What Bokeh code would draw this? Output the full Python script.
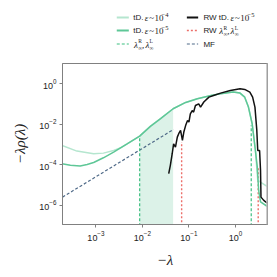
import numpy as np
from bokeh.plotting import figure
from bokeh.layouts import column
from bokeh.models import Range1d, FixedTicker, Span
from bokeh.core.properties import value
from bokeh.embed import file_html
from bokeh.resources import INLINE

# ---- data (log10 values) ----
td4_logx = [-3.73, -3.41, -3.05, -2.84, -2.62, -2.48, -2.33, -2.06, -1.83, -1.61, -1.34, -1.07, -0.82, -0.5,
            -0.32, -0.05, 0.10, 0.20, 0.28, 0.36, 0.43, 0.48, 0.68]
td4_logy = [-3.04, -3.32, -3.45, -3.42, -3.29, -3.17, -2.96, -2.58, -2.10, -1.72, -1.23, -0.92, -0.74, -0.57,
            -0.49, -0.41, -0.46, -0.66, -1.15, -1.97, -3.29, -4.76, -5.06]

td5_logx = [-3.73, -3.55, -3.34, -3.19, -3.05, -2.84, -2.62, -2.48, -2.33, -2.06, -1.83, -1.61, -1.34, -1.07,
            -0.82, -0.5, -0.32, -0.05, 0.10, 0.20, 0.28, 0.36, 0.43, 0.47, 0.50, 0.54, 0.68]
td5_logy = [-3.94, -4.02, -4.06, -3.98, -3.88, -3.65, -3.37, -3.17, -2.96, -2.58, -2.10, -1.72, -1.23, -0.92,
            -0.74, -0.57, -0.49, -0.41, -0.46, -0.66, -1.15, -1.97, -3.29, -4.1, -5.26, -5.83, -6.04]

rw_logx = [-1.435, -1.40, -1.36, -1.33, -1.29, -1.25, -1.22, -1.18, -1.14, -1.11, -1.07, -1.03, -1.00, -0.97,
           -0.93, -0.90, -0.86, -0.79, -0.75, -0.68, -0.57, -0.47, -0.32, -0.11, 0.10, 0.20, 0.31, 0.37,
           0.42, 0.46, 0.48, 0.52, 0.54, 0.55, 0.61, 0.68]
rw_logy = [-4.43, -4.02, -3.45, -2.96, -3.12, -2.63, -2.46, -2.30, -2.79, -2.38, -2.05, -1.81, -1.89, -1.48,
           -1.32, -1.40, -1.07, -0.99, -1.15, -0.90, -0.66, -0.58, -0.46, -0.33, -0.25, -0.28, -0.41, -0.66,
           -1.15, -2.30, -3.29, -3.29, -4.27, -5.59, -5.75, -5.88]

mf_logx = [-3.72, -1.33]
mf_logy = [-5.59, -2.25]

edge_td_logx = [-2.06, 0.34]
edge_td_logy = [-2.58, -2.05]

edge_rw_logx = [-1.157, 0.49]
edge_rw_logy = [-2.87, -4.1]

shade_logx = [-2.06, -1.83, -1.61, -1.34]
shade_logy = [-2.58, -2.10, -1.72, -1.23]

x_ticks = [1e-3, 1e-2, 1e-1, 1e0]
y_ticks = [1e-6, 1e-4, 1e-2, 1e0]

def e(v):
    return (10.0 ** np.array(v)).tolist()

C_LIGHT = "#b5e6cf"
C_MED = "#5ec797"
C_SHADE = "#dcf2e8"
C_GDASH = "#3dbf80"
C_RED = "#ec6f6a"
C_MF = "#4f6a88"
C_BLACK = "#111111"
C_AX = "#808080"
C_TXT = "#222222"

SANS = "Liberation Sans"
SERIF = "Liberation Serif"

# ---------------- main plot ----------------
p = figure(width=272, height=210, x_axis_type="log", y_axis_type="log",
           x_range=Range1d(10 ** -3.72, 10 ** 0.69), y_range=Range1d(10 ** -6.94, 10 ** 1.0),
           output_backend="svg", toolbar_location=None,
           min_border_left=62, min_border_right=5, min_border_top=1, min_border_bottom=48)
p.grid.visible = False
p.background_fill_color = "white"
p.border_fill_color = "white"
p.outline_line_color = C_AX
p.outline_line_width = 1

bottom = 1e-9
p.varea(x=e(shade_logx), y1=[bottom] * len(shade_logx), y2=e(shade_logy), fill_color=C_SHADE)

p.line(e(mf_logx), e(mf_logy), line_color=C_MF, line_width=1.2, line_dash="3 2")
p.segment(x0=e(edge_td_logx), y0=[bottom] * 2, x1=e(edge_td_logx), y1=e(edge_td_logy),
          line_color=C_GDASH, line_width=1.2, line_dash="3 2")
p.segment(x0=e(edge_rw_logx), y0=[bottom] * 2, x1=e(edge_rw_logx), y1=e(edge_rw_logy),
          line_color=C_RED, line_width=1.4, line_dash="2 2")
p.line(e(td4_logx), e(td4_logy), line_color=C_LIGHT, line_width=1.5)
p.line(e(td5_logx), e(td5_logy), line_color=C_MED, line_width=1.5)
p.line(e(rw_logx), e(rw_logy), line_color=C_BLACK, line_width=1.5)

p.add_layout(Span(location=10 ** 0.69, dimension="height", line_color="#bdbdbd", line_width=2.5))

for ax in (p.xaxis[0], p.yaxis[0]):
    ax.axis_line_color = C_AX
    ax.major_tick_line_color = C_AX
    ax.major_tick_out = 3
    ax.major_tick_in = 0
    ax.minor_tick_line_color = None
    ax.major_label_text_font = SANS
    ax.major_label_text_font_size = "9px"
    ax.major_label_text_color = C_TXT
    ax.major_label_standoff = 3
    ax.axis_label_text_font = SERIF
    ax.axis_label_text_font_style = "italic"
    ax.axis_label_text_font_size = "15px"
    ax.axis_label_text_color = C_TXT
    ax.axis_label_standoff = 8

p.xaxis[0].ticker = FixedTicker(ticks=x_ticks)
p.yaxis[0].ticker = FixedTicker(ticks=y_ticks)
p.xaxis[0].axis_label = "\u2212\u03bb"
p.yaxis[0].axis_label = "\u2212\u03bb\u03c1(\u03bb)"

# ---------------- legend (separate strip above) ----------------
lg = figure(width=272, height=62, x_range=Range1d(0, 272), y_range=Range1d(62, 0),
            output_backend="svg", toolbar_location=None,
            x_axis_location=None, y_axis_location=None, min_border=0)
lg.grid.visible = False
lg.outline_line_color = None
lg.border_fill_color = "white"

ROWS = [17, 30, 43.5]
C1 = (72, 88, 94)
C2 = (165, 180, 187)

def sample(col, row, color, dash="solid", width=2.0):
    lg.line([col[0], col[1]], [ROWS[row], ROWS[row]], line_color=color, line_width=width, line_dash=dash)

def txt(x, y, s, font=SANS, size="8px", style="normal"):
    lg.text(x=[x], y=[y], text=[s], text_font=value(font), text_font_size=value(size),
            text_font_style=style, text_color=C_TXT, text_baseline="middle", text_align="left")

def eps_label(x, y, expo):
    txt(x, y + 0.5, "\u03b5", font=SERIF, size="9px", style="italic")
    txt(x + 6.0, y + 0.5, "~", font=SERIF, size="9px")
    txt(x + 13.0, y + 0.5, "10", font=SERIF, size="9px")
    txt(x + 22.5, y - 3.0, "\u2212" + expo, font=SERIF, size="6.5px")

def lam_pair(x, y):
    txt(x, y + 0.5, "\u03bb", font=SERIF, size="9px", style="italic")
    txt(x + 5.5, y - 3.0, "R", font=SERIF, size="5.5px")
    txt(x + 5.5, y + 3.6, "\u221e", font=SERIF, size="5.5px")
    txt(x + 10.5, y + 0.5, ",", font=SERIF, size="9px")
    txt(x + 15.0, y + 0.5, "\u03bb", font=SERIF, size="9px", style="italic")
    txt(x + 20.5, y - 3.0, "L", font=SERIF, size="5.5px")
    txt(x + 20.5, y + 3.6, "\u221e", font=SERIF, size="5.5px")

# column 1
sample(C1, 0, C_LIGHT)
txt(C1[2], ROWS[0], "tD.")
eps_label(C1[2] + 15, ROWS[0], "4")
sample(C1, 1, C_MED)
txt(C1[2], ROWS[1], "tD.")
eps_label(C1[2] + 15, ROWS[1], "5")
sample(C1, 2, C_GDASH, dash="3 2", width=1.2)
lam_pair(C1[2] + 1, ROWS[2])

# column 2
sample(C2, 0, C_BLACK)
txt(C2[2], ROWS[0], "RW tD.")
eps_label(C2[2] + 36, ROWS[0], "5")
sample(C2, 1, C_RED, dash="2 2", width=1.4)
txt(C2[2], ROWS[1], "RW")
lam_pair(C2[2] + 21, ROWS[1])
sample(C2, 2, C_MF, dash="3 2", width=1.2)
txt(C2[2], ROWS[2], "MF")

layout = column(lg, p, spacing=0)
open("out.html", "w").write(file_html(layout, INLINE))
